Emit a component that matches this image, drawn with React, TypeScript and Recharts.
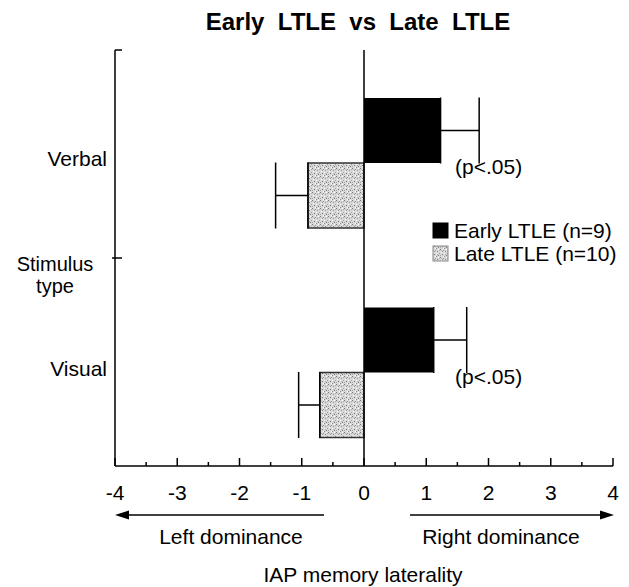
import React from 'react';
import { BarChart, Bar, XAxis, YAxis, ErrorBar, ReferenceLine, LabelList, Legend } from 'recharts';

const categories = ['Verbal', 'Visual'];
const earlyValues = [1.23, 1.12];
const earlyErrors = [0.62, 0.53];
const lateValues = [-0.9, -0.71];
const lateErrors = [0.52, 0.34];
const significance = ['(p<.05)', '(p<.05)'];
const seriesNames = ['Early LTLE (n=9)', 'Late LTLE (n=10)'];
const xTicks = [-4, -3, -2, -1, 0, 1, 2, 3, 4];
const xMinorTicks = [-3.5, -2.5, -1.5, -0.5, 0.5, 1.5, 2.5, 3.5];

const data = categories.map((c, i) => ({
  category: c,
  early: earlyValues[i],
  earlyErr: [0, earlyErrors[i]],
  late: lateValues[i],
  lateErr: [lateErrors[i], 0],
  sig: significance[i],
}));

const allXTicks = [...xTicks, ...xMinorTicks].sort((a, b) => a - b);

const FONT = '"Liberation Sans", Arial, Helvetica, sans-serif';
const W = 629;
const H = 587;
const FS = 21;
const TICK_MARGIN = 19;

const XTick = (props: any) => {
  const { x, y, payload } = props;
  const v = payload.value;
  const major = Number.isInteger(v);
  const axisY = y - TICK_MARGIN;
  return (
    <g>
      <line x1={x} x2={x} y1={axisY} y2={axisY - (major ? 8 : 4)} stroke="#000" strokeWidth={1.5} />
      {major && (
        <text x={x} y={y} dy="0.71em" textAnchor="middle" fontSize={FS} fontFamily={FONT} fill="#000">
          {String(v)}
        </text>
      )}
    </g>
  );
};

// Boundary tick at the top edge of each category band
const FrameTick = (props: any) => {
  const { x, y, payload, height, visibleTicksCount } = props;
  let half = payload && typeof payload.offset === 'number' && payload.offset > 0 ? payload.offset : 0;
  if (!half && height && visibleTicksCount) half = height / visibleTicksCount / 2;
  const by = y - half;
  const outer = payload && payload.index === 0 ? 0 : 3;
  return <line x1={x - outer} x2={x + 7} y1={by} y2={by} stroke="#000" strokeWidth={1.5} />;
};

const SigLabel = (props: any) => {
  const { x, y, height, value } = props;
  return (
    <text x={x + 91} y={y + height + 11} fontSize={FS} fontFamily={FONT} fill="#000">
      {value}
    </text>
  );
};

const LegendContent = (props: any) => {
  const payload = props.payload || [];
  return (
    <svg width={200} height={50} style={{ overflow: 'visible' }}>
      {payload.map((p: any, i: number) => (
        <g key={i} transform={`translate(0, ${i * 23})`}>
          <rect x={1} y={5} width={15} height={15} fill={p.color} stroke={i === 0 ? '#000' : '#888'} strokeWidth={1} />
          <text x={22} y={20} fontSize={FS} fontFamily={FONT} fill="#000">
            {p.value}
          </text>
        </g>
      ))}
    </svg>
  );
};

const dots: [number, number, string][] = [
  [0, 0, '#777'], [3, 1, '#999'], [6, 0, '#fff'], [1, 3, '#fff'], [5, 2, '#888'], [2, 5, '#777'],
  [7, 4, '#999'], [4, 4, '#fff'], [0, 6, '#aaa'], [6, 6, '#777'], [3, 7, '#fff'], [7, 1, '#aaa'],
  [1, 1, '#bbb'], [5, 5, '#aaa'], [2, 2, '#999'], [4, 7, '#888'],
];

export default function App() {
  return (
    <div style={{ position: 'absolute', left: 0, top: 0, width: W, height: H, background: '#fff', fontFamily: FONT }}>
      <svg width={0} height={0} style={{ position: 'absolute' }}>
        <defs>
          <pattern id="stipple" width={8} height={8} patternUnits="userSpaceOnUse">
            <rect width={8} height={8} fill="#d9d9d9" />
            {dots.map(([x, y, c], i) => (
              <rect key={i} x={x} y={y} width={1} height={1} fill={c} />
            ))}
          </pattern>
        </defs>
      </svg>
      <BarChart
        width={W}
        height={H}
        data={data}
        layout="vertical"
        margin={{ top: 50, right: 16, bottom: 91, left: 0 }}
        barGap={0}
        barSize={65}
      >
        <YAxis
          yAxisId="frame"
          type="category"
          dataKey="category"
          mirror
          width={1}
          tickSize={0}
          tickMargin={0}
          tickLine={false}
          tick={FrameTick}
          interval={0}
          axisLine={{ stroke: '#000', strokeWidth: 1.5 }}
        />
        <YAxis
          yAxisId="cat"
          type="category"
          dataKey="category"
          width={115}
          padding={{ top: 8, bottom: -11 }}
          axisLine={false}
          tickLine={false}
          tickSize={0}
          tickMargin={8}
          tick={{ fontSize: FS, fill: '#000', fontFamily: FONT, dy: -4 }}
        />
        <XAxis
          xAxisId="main"
          type="number"
          domain={[-4, 4]}
          ticks={allXTicks}
          interval={0}
          allowDataOverflow
          height={30}
          tickLine={false}
          tickSize={0}
          tickMargin={TICK_MARGIN}
          axisLine={{ stroke: '#000', strokeWidth: 1.5 }}
          tick={XTick}
        />
        <ReferenceLine x={0} xAxisId="main" yAxisId="frame" stroke="#000" strokeWidth={1.5} />
        <Bar
          dataKey="early"
          name={seriesNames[0]}
          xAxisId="main"
          yAxisId="cat"
          fill="#000"
          isAnimationActive={false}
        >
          <ErrorBar dataKey="earlyErr" direction="x" width={33} stroke="#000" strokeWidth={1.5} isAnimationActive={false} />
          <LabelList dataKey="sig" content={SigLabel} />
        </Bar>
        <Bar
          dataKey="late"
          name={seriesNames[1]}
          xAxisId="main"
          yAxisId="cat"
          fill="url(#stipple)"
          stroke="#333"
          strokeWidth={1.5}
          isAnimationActive={false}
        >
          <ErrorBar dataKey="lateErr" direction="x" width={33} stroke="#000" strokeWidth={1.5} isAnimationActive={false} />
        </Bar>
        <Legend
          layout="vertical"
          align="center"
          verticalAlign="middle"
          content={LegendContent}
          wrapperStyle={{ left: 432, top: 218, width: 200, height: 50 }}
        />
      </BarChart>
      <svg width={W} height={H} style={{ position: 'absolute', left: 0, top: 0, pointerEvents: 'none' }}>
        <text x={358} y={30} textAnchor="middle" fontSize={24} fontWeight="bold" fontFamily={FONT} fill="#000" xmlSpace="preserve" style={{ whiteSpace: 'pre' }}>
          {'Early  LTLE  vs  Late  LTLE'}
        </text>
        <text x={55} y={271} textAnchor="middle" fontSize={20} fontFamily={FONT} fill="#000">Stimulus</text>
        <text x={55} y={293} textAnchor="middle" fontSize={20} fontFamily={FONT} fill="#000">type</text>
        <line x1={125} y1={515} x2={324} y2={515} stroke="#000" strokeWidth={1.5} />
        <polygon points="115,515 129,510.5 129,519.5" fill="#000" />
        <line x1={410} y1={515} x2={603} y2={515} stroke="#000" strokeWidth={1.5} />
        <polygon points="614,515 600,510.5 600,519.5" fill="#000" />
        <text x={231} y={544} textAnchor="middle" fontSize={FS} fontFamily={FONT} fill="#000">Left dominance</text>
        <text x={501} y={544} textAnchor="middle" fontSize={FS} fontFamily={FONT} fill="#000">Right dominance</text>
        <text x={363} y={582} textAnchor="middle" fontSize={FS} fontFamily={FONT} fill="#000">IAP memory laterality</text>
      </svg>
    </div>
  );
}
